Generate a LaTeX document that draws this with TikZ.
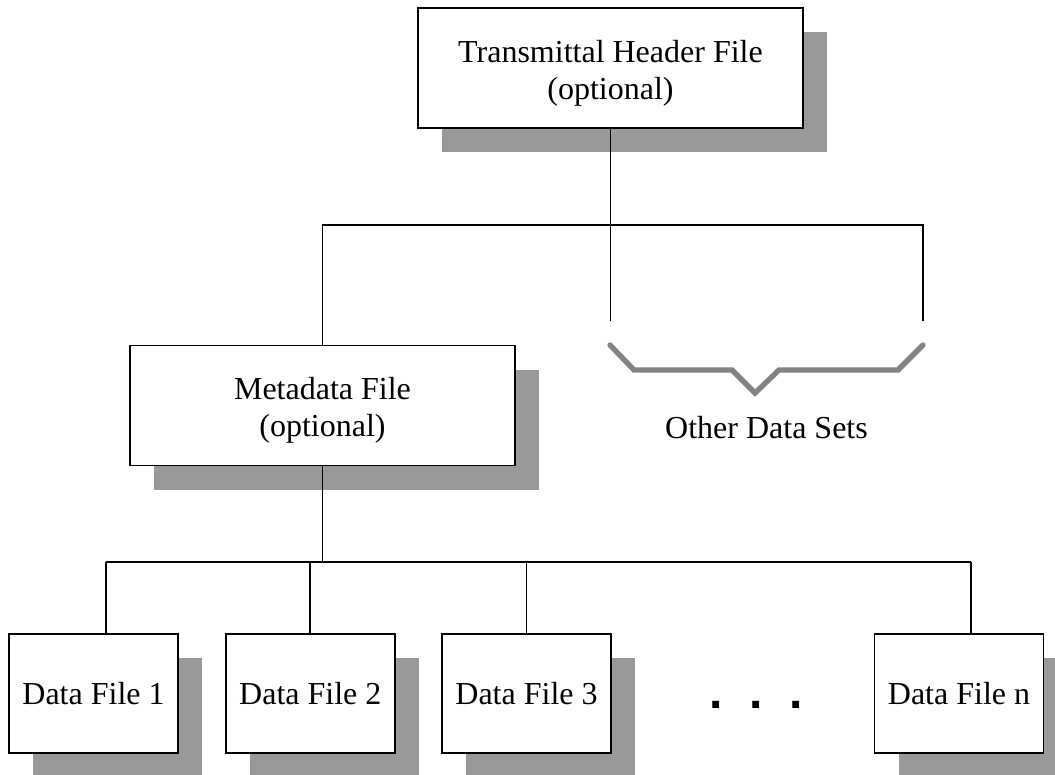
\documentclass[tikz,border=0pt]{standalone}
\usepackage{fontspec}
\setmainfont{Liberation Serif}
\newfontfamily\dotfont{Liberation Sans}
\usetikzlibrary{shadows}
\definecolor{shadowgray}{HTML}{999999}
\definecolor{bracegray}{HTML}{838383}
\begin{document}
\begin{tikzpicture}[x=0.75pt,y=-0.75pt,
  txt/.style={font=\fontsize{24}{27.75}\selectfont, inner sep=0pt},
  filebox/.style={txt, draw=black, line width=1.4pt, fill=white, align=center,
    drop shadow={shadow xshift=18pt, shadow yshift=-18pt, fill=shadowgray, opacity=1}},
  bigbox/.style={filebox, minimum width=288.75pt, minimum height=90pt},
  smallbox/.style={filebox, minimum width=126.75pt, minimum height=89.25pt},
  boxtext/.style={label={[txt, align=center, yshift=-3.75pt]center:#1}},
  conn/.style={line width=1.3pt, black},
  bracestyle/.style={line width=4pt, bracegray, line cap=round, line join=miter}]
\useasboundingbox (0,0) rectangle (1055,774);

% boxes
\node[bigbox, boxtext={Transmittal Header File\\(optional)}] (top) at (610.5,68) {};
\node[bigbox, boxtext={Metadata File\\(optional)}] (meta) at (322.5,405.5) {};
\node[smallbox] (df1) at (93.5,693.5) {Data File 1};
\node[smallbox] (df2) at (310.3,693.5) {Data File 2};
\node[smallbox] (df3) at (526.5,693.5) {Data File 3};
\node[smallbox] (dfn) at (959,693.5) {Data File n};

% texts
\node[txt, anchor=base] (others) at (766.5,438) {Other Data Sets};
\node[anchor=base, inner sep=0pt, font=\dotfont\fontsize{36}{36}\selectfont\bfseries] (dots) at (756,708)
  {.\hspace{20pt}.\hspace{20pt}.};

% coordinates for free ends
\coordinate (midend) at (610.5,321);
\coordinate (rtop) at (923,225);
\coordinate (rend) at (923,321);
\coordinate (busL) at (106,562);
\coordinate (busR) at (971,562);
\coordinate (busB) at (322.5,562);

% upper connectors
\draw[conn] (top.south) -- (top.south |- midend);
\draw[conn] (meta.north) |- (rtop) -- (rend);

% lower connectors
\draw[conn] (meta.south) -- (busB);
\draw[conn] (busL) -- (busR);
\draw[conn] (busL) -- (busL |- df1.north);
\draw[conn] (df2.north |- busL) -- (df2.north);
\draw[conn] (df3.north |- busL) -- (df3.north);
\draw[conn] (busR) -- (busR |- dfn.north);

% brace
\coordinate (b1) at (610,345);
\coordinate (b2) at (634,370);
\coordinate (b3) at (732,370);
\coordinate (b4) at (755,393);
\coordinate (b5) at (779,370);
\coordinate (b6) at (898,370);
\coordinate (b7) at (923,345);
\draw[bracestyle] (b1) -- (b2) -- (b3) -- (b4) -- (b5) -- (b6) -- (b7);
\end{tikzpicture}
\end{document}
